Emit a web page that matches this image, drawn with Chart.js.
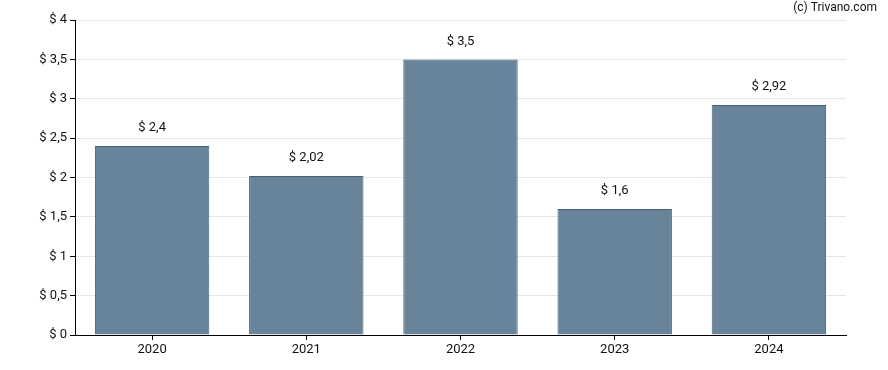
<!DOCTYPE html>
<html>
<head>
<meta charset="utf-8">
<script src="https://cdn.jsdelivr.net/npm/chart.js@4.4.0/dist/chart.umd.min.js"></script>
<style>
  html, body { margin: 0; padding: 0; background: #fff; }
  #wrap { width: 888px; height: 370px; position: relative; }
</style>
</head>
<body>
<div id="wrap"><canvas id="dividendChart" width="888" height="370"></canvas></div>
<script>
const years = ['2020', '2021', '2022', '2023', '2024'];
const dividends = [2.4, 2.02, 3.5, 1.6, 2.92];
const yTicks = [0, 0.5, 1, 1.5, 2, 2.5, 3, 3.5, 4];

const fmt = v => '$ ' + String(v).replace('.', ',');
const FONT = 'Roboto, "Liberation Sans", Arial, sans-serif';

const valueLabels = {
    id: 'valueLabels',
    afterDatasetsDraw(chart) {
        const ctx = chart.ctx;
        const meta = chart.getDatasetMeta(0);
        ctx.save();
        ctx.font = '13px ' + FONT;
        ctx.fillStyle = '#111';
        ctx.textAlign = 'center';
        ctx.textBaseline = 'middle';
        meta.data.forEach((bar, i) => {
            ctx.fillText(fmt(dividends[i]), bar.x, bar.y - 18);
        });
        ctx.font = '12px ' + FONT;
        ctx.textAlign = 'right';
        ctx.fillText('(c) Trivano.com', 877, 8);
        ctx.restore();
    }
};

new Chart(document.getElementById('dividendChart').getContext('2d'), {
    type: 'bar',
    data: {
        labels: years,
        datasets: [{
            data: dividends,
            backgroundColor: '#67849a',
            borderColor: '#465f74',
            borderWidth: 1,
            barPercentage: 0.742,
            categoryPercentage: 1
        }]
    },
    options: {
        responsive: false,
        animation: false,
        devicePixelRatio: 1,
        layout: { padding: { left: 0, right: 42, top: 20, bottom: 0 } },
        scales: {
            y: {
                min: 0,
                max: 4,
                afterFit: s => { s.width = 75; },
                afterBuildTicks: s => { s.ticks = yTicks.map(v => ({ value: v })); },
                grid: { color: '#e6e6e6', tickColor: '#000', tickLength: 5 },
                border: { color: '#000', width: 1 },
                ticks: { autoSkip: false, color: '#111', padding: 3, font: { size: 13, family: FONT }, callback: v => fmt(v) }
            },
            x: {
                afterFit: s => { s.height = 35; },
                grid: { drawOnChartArea: false, offset: false, tickColor: '#000', tickLength: 5 },
                border: { color: '#000', width: 1 },
                ticks: { color: '#111', padding: 2, font: { size: 13, family: FONT } }
            }
        },
        plugins: {
            legend: { display: false },
            tooltip: { enabled: false }
        }
    },
    plugins: [valueLabels]
});
</script>
</body>
</html>
